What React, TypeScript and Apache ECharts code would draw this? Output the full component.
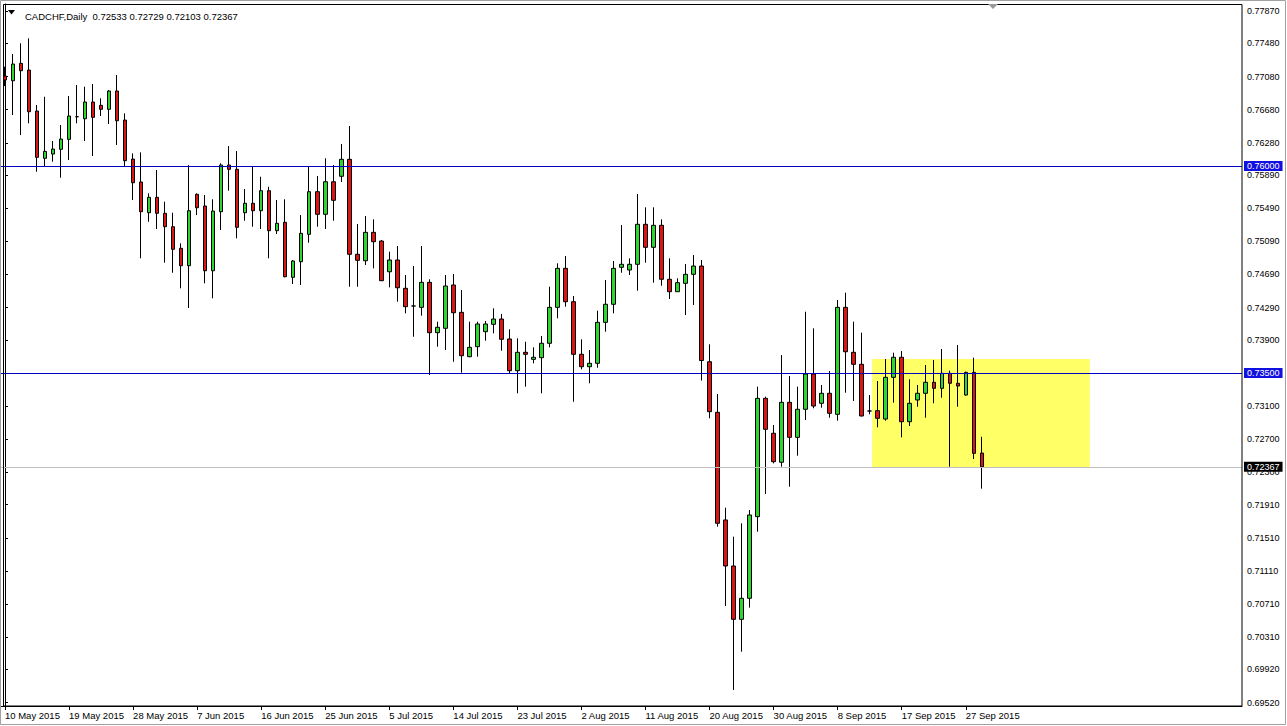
import React, { useEffect, useRef } from 'react';
import * as echarts from 'echarts';

// ---------- data ----------
const symbolName = 'CADCHF';
const timeframe = 'Daily';
const firstBarDate = '2015-05-10'; // broker calendar: Sun..Fri bars
const barCount = 123;
const slotCount = 155; // bars + empty right-hand space of the chart

const opens = [
  0.77087, 0.77030, 0.77240, 0.77159, 0.76664, 0.76093, 0.76145, 0.76202, 0.76322, 0.76595,
  0.76571, 0.76773, 0.76733, 0.76685, 0.76906, 0.76555, 0.76084, 0.75807, 0.75436, 0.75622,
  0.75429, 0.75267, 0.75006, 0.74796, 0.75658, 0.75517, 0.74735, 0.75448, 0.76012, 0.75960,
  0.75436, 0.75550, 0.75460, 0.75702, 0.75219, 0.75320, 0.74656, 0.74844, 0.75175, 0.75690,
  0.75417, 0.75810, 0.75876, 0.76081, 0.74934, 0.74856, 0.75199, 0.75094, 0.74723, 0.74865,
  0.74523, 0.74309, 0.74293, 0.74595, 0.73987, 0.74040, 0.74563, 0.74233, 0.73697, 0.73818,
  0.73999, 0.74088, 0.74152, 0.73911, 0.73528, 0.73750, 0.73665, 0.73685, 0.73859, 0.74293,
  0.74764, 0.74361, 0.73726, 0.73576, 0.73617, 0.74112, 0.74330, 0.74777, 0.74744, 0.74813,
  0.75296, 0.75018, 0.75284, 0.74632, 0.74482, 0.74583, 0.74692, 0.74792, 0.73636, 0.73025,
  0.71725, 0.71169, 0.70525, 0.70779, 0.71765, 0.73194, 0.72772, 0.72422, 0.73146, 0.72723,
  0.73062, 0.73488, 0.73134, 0.73255, 0.73001, 0.74293, 0.73750, 0.73605, 0.73041, 0.73045,
  0.72944, 0.73448, 0.73690, 0.72912, 0.73174, 0.73255, 0.73388, 0.73315, 0.73496, 0.73376,
  0.73234, 0.73508, 0.72533,
];
const closes = [
  0.77039, 0.77232, 0.77151, 0.76656, 0.76105, 0.76177, 0.76205, 0.76326, 0.76604, 0.76595,
  0.76773, 0.76588, 0.76685, 0.76906, 0.76547, 0.76064, 0.75798, 0.75448, 0.75622, 0.75429,
  0.75267, 0.74994, 0.74796, 0.75460, 0.75496, 0.74735, 0.75456, 0.76012, 0.75960, 0.75260,
  0.75550, 0.75460, 0.75702, 0.75219, 0.75308, 0.74663, 0.74853, 0.75187, 0.75690, 0.75417,
  0.75810, 0.75586, 0.76081, 0.74934, 0.74861, 0.75199, 0.75086, 0.74615, 0.74865, 0.74530,
  0.74301, 0.74309, 0.74595, 0.73987, 0.74052, 0.74551, 0.74228, 0.73709, 0.73810, 0.74092,
  0.74092, 0.74152, 0.73907, 0.73528, 0.73750, 0.73726, 0.73690, 0.73859, 0.74293, 0.74764,
  0.74361, 0.73726, 0.73576, 0.73617, 0.74112, 0.74330, 0.74764, 0.74813, 0.74813, 0.75296,
  0.75018, 0.75284, 0.74632, 0.74482, 0.74591, 0.74692, 0.74792, 0.73651, 0.73033, 0.71685,
  0.71169, 0.70525, 0.70779, 0.71785, 0.73194, 0.72820, 0.72429, 0.73146, 0.72723, 0.73062,
  0.73488, 0.73101, 0.73255, 0.73013, 0.74293, 0.73757, 0.73605, 0.72981, 0.73041, 0.72953,
  0.73448, 0.73690, 0.72912, 0.73134, 0.73255, 0.73388, 0.73315, 0.73496, 0.73376, 0.73343,
  0.73508, 0.72530, 0.72367,
];
const lows = [
  0.76966, 0.76616, 0.76374, 0.76516, 0.75931, 0.76000, 0.76052, 0.75859, 0.76072, 0.76516,
  0.76302, 0.76121, 0.76604, 0.76507, 0.76254, 0.76000, 0.75589, 0.74885, 0.75327, 0.75239,
  0.74832, 0.74711, 0.74523, 0.74285, 0.75408, 0.74583, 0.74402, 0.75227, 0.75702, 0.75127,
  0.75339, 0.75267, 0.75239, 0.74885, 0.75179, 0.74656, 0.74575, 0.74563, 0.75074, 0.75267,
  0.75239, 0.75339, 0.75807, 0.74542, 0.74542, 0.74804, 0.74764, 0.74610, 0.74535, 0.74361,
  0.74221, 0.73938, 0.74192, 0.73476, 0.73818, 0.73778, 0.73636, 0.73504, 0.73690, 0.73697,
  0.73890, 0.73979, 0.73769, 0.73496, 0.73255, 0.73335, 0.73617, 0.73255, 0.73810, 0.74161,
  0.74301, 0.73153, 0.73545, 0.73376, 0.73564, 0.73999, 0.74221, 0.74711, 0.74684, 0.74494,
  0.74832, 0.74591, 0.74554, 0.74394, 0.74482, 0.74200, 0.74321, 0.73409, 0.72953, 0.71644,
  0.70686, 0.69672, 0.70134, 0.70666, 0.71583, 0.72039, 0.72409, 0.72368, 0.72127, 0.72501,
  0.72932, 0.73074, 0.73081, 0.72960, 0.72924, 0.73262, 0.73162, 0.72975, 0.73001, 0.72844,
  0.72924, 0.73141, 0.72723, 0.72860, 0.73093, 0.72960, 0.73134, 0.73202, 0.72368, 0.73093,
  0.73226, 0.72461, 0.72103,
];
const highs = [
  0.77199, 0.77353, 0.77482, 0.77542, 0.76737, 0.76837, 0.76302, 0.76495, 0.76845, 0.76978,
  0.76958, 0.76990, 0.76818, 0.76918, 0.77099, 0.76636, 0.76153, 0.76165, 0.75670, 0.75952,
  0.75569, 0.75436, 0.75066, 0.76012, 0.75670, 0.75650, 0.75598, 0.76033, 0.76241, 0.76181,
  0.75722, 0.75992, 0.75871, 0.75750, 0.75589, 0.75598, 0.74865, 0.75408, 0.76000, 0.75879,
  0.76093, 0.76012, 0.76266, 0.76483, 0.75300, 0.75396, 0.75356, 0.75106, 0.74965, 0.75034,
  0.74684, 0.74792, 0.75034, 0.74632, 0.74120, 0.74684, 0.74696, 0.74502, 0.74120, 0.74120,
  0.74128, 0.74281, 0.74213, 0.74028, 0.73919, 0.73878, 0.73810, 0.73947, 0.74542, 0.74825,
  0.74913, 0.74430, 0.73907, 0.73778, 0.74252, 0.74623, 0.74853, 0.75287, 0.74885, 0.75662,
  0.75501, 0.75501, 0.75356, 0.74885, 0.74644, 0.74816, 0.74925, 0.74865, 0.73847, 0.73246,
  0.71873, 0.71523, 0.71685, 0.71845, 0.73335, 0.73214, 0.72872, 0.73717, 0.73464, 0.73335,
  0.74240, 0.74040, 0.73355, 0.73524, 0.74382, 0.74470, 0.74120, 0.73987, 0.73234, 0.73403,
  0.73669, 0.73745, 0.73766, 0.73424, 0.73355, 0.73597, 0.73657, 0.73790, 0.73528, 0.73838,
  0.73516, 0.73685, 0.72729,
];

const priceWindow = [0.69478, 0.77957];
const yTickValues = [
  0.7787, 0.7748, 0.7708, 0.7668, 0.7628, 0.7589, 0.7549, 0.7509, 0.7469, 0.7429, 0.739,
  0.735, 0.731, 0.727, 0.723, 0.7191, 0.7151, 0.7111, 0.7071, 0.7031, 0.6992, 0.6952,
];
const levels = [0.76, 0.735];
const rangeBox = { fromBar: 108.3, toBar: 135.5, top: 0.73669, bottom: 0.72362 };
const labelEvery = 8;

// ---------- helpers ----------
const MONTHS = ['Jan', 'Feb', 'Mar', 'Apr', 'May', 'Jun', 'Jul', 'Aug', 'Sep', 'Oct', 'Nov', 'Dec'];
function buildDates(start: string, n: number): string[] {
  const out: string[] = [];
  const d = new Date(start + 'T00:00:00Z');
  while (out.length < n) {
    if (d.getUTCDay() !== 6) {
      out.push(`${d.getUTCDate()} ${MONTHS[d.getUTCMonth()]} ${d.getUTCFullYear()}`);
    }
    d.setUTCDate(d.getUTCDate() + 1);
  }
  return out;
}

const FONT = '"Liberation Sans", Arial, sans-serif';
const BULL = '#2fd62f';
const BEAR = '#dc1414';

export default function App() {
  const ref = useRef<HTMLDivElement>(null);

  useEffect(() => {
    if (!ref.current) return;
    const chart = echarts.init(ref.current, null, { renderer: 'svg' });
    const dates = buildDates(firstBarDate, slotCount);
    const candles = opens.map((o, i) => [o, closes[i], lows[i], highs[i]]);
    const last = barCount - 1;
    const lastClose = closes[last];
    const showAt = (i: number) => i % labelEvery === 0 && i < barCount;
    const f5 = (v: number) => Number(v).toFixed(5);

    const levelLabel = (bg: string) => ({
      show: true,
      position: 'end',
      distance: 2,
      formatter: (p: any) => f5(p.value),
      color: '#fff',
      backgroundColor: bg,
      padding: [1, 3, 0, 3],
      fontSize: 9,
      fontFamily: FONT,
    });

    const option: any = {
      animation: false,
      backgroundColor: '#fff',
      title: {
        text: `${symbolName},${timeframe}  ${f5(opens[last])} ${f5(highs[last])} ${f5(lows[last])} ${f5(closes[last])}`,
        left: 20,
        top: 6,
        textStyle: { fontSize: 9.5, fontWeight: 'normal', color: '#000', fontFamily: FONT },
      },
      grid: { left: 1, right: 45, top: 4, bottom: 20, show: false },
      xAxis: [
        {
          type: 'category',
          data: dates,
          boundaryGap: true,
          axisLine: { show: true, lineStyle: { color: '#000', width: 1 } },
          axisTick: {
            show: true,
            alignWithLabel: true,
            interval: (i: number) => showAt(i),
            length: 4,
            lineStyle: { color: '#000' },
          },
          axisLabel: {
            interval: (i: number) => showAt(i),
            align: 'left',
            fontSize: 9.5,
            color: '#000',
            margin: 4,
            fontFamily: FONT,
          },
          splitLine: { show: false },
        },
        {
          type: 'value',
          min: -0.5,
          max: slotCount - 0.5,
          show: false,
          position: 'top',
        },
      ],
      yAxis: {
        type: 'value',
        position: 'right',
        min: priceWindow[0],
        max: priceWindow[1],
        scale: true,
        splitLine: { show: false },
        axisLine: { show: true, lineStyle: { color: '#000' } },
        axisTick: { show: true, customValues: yTickValues, length: 3, lineStyle: { color: '#000' } },
        axisLabel: {
          customValues: yTickValues,
          formatter: (v: number) => f5(v),
          fontSize: 9,
          color: '#000',
          margin: 5,
          fontFamily: FONT,
        },
      },
      series: [
        {
          type: 'line',
          xAxisIndex: 1,
          data: [],
          silent: true,
          z: 1,
          markArea: {
            silent: true,
            itemStyle: { color: '#ffff66', opacity: 1 },
            data: [[
              { xAxis: rangeBox.fromBar, yAxis: rangeBox.top },
              { xAxis: rangeBox.toBar, yAxis: rangeBox.bottom },
            ]],
          },
        },
        {
          type: 'candlestick',
          data: candles,
          barWidth: 4,
          clip: true,
          z: 3,
          itemStyle: {
            color: BULL,
            color0: BEAR,
            borderColor: '#000',
            borderColor0: '#000',
            borderWidth: 1,
          },
          markLine: {
            silent: true,
            symbol: ['none', 'none'],
            precision: 5,
            animation: false,
            data: [
              ...levels.map((lv) => ({
                yAxis: lv,
                lineStyle: { color: '#0000c0', width: 1, type: 'solid' },
                label: levelLabel('#1010e0'),
              })),
              {
                yAxis: lastClose,
                lineStyle: { color: '#c0c0c0', width: 1, type: 'solid' },
                label: levelLabel('#000'),
              },
            ],
          },
        },
      ],
      graphic: [
        {
          type: 'rect',
          silent: true,
          z: 100,
          shape: { x: 3.5, y: 4.5, width: 1238.5, height: 701.5 },
          style: { fill: null, stroke: '#000', lineWidth: 1 },
        },
        {
          type: 'rect',
          silent: true,
          z: 100,
          shape: { x: 0.5, y: 0.5, width: 1285, height: 724 },
          style: { fill: null, stroke: '#a0a0a0', lineWidth: 1 },
        },
        {
          type: 'polygon',
          silent: true,
          z: 100,
          shape: { points: [[8, 10], [15, 10], [11.5, 14.5]] },
          style: { fill: '#000' },
        },
        {
          type: 'polygon',
          silent: true,
          z: 100,
          shape: { points: [[988, 4], [998, 4], [993, 9]] },
          style: { fill: '#9a9a9a' },
        },
      ],
    };

    chart.setOption(option);
    return () => chart.dispose();
  }, []);

  return (
    <div
      ref={ref}
      style={{ position: 'fixed', left: 0, top: 0, width: 1287, height: 726, background: '#fff' }}
    />
  );
}
